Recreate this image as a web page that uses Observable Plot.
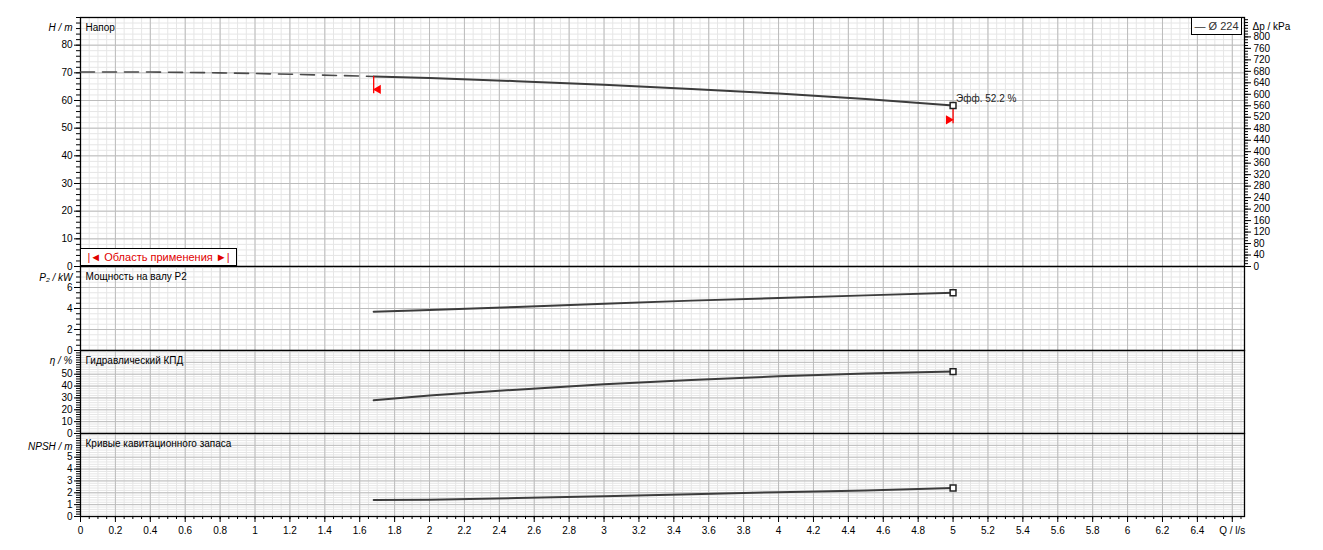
<!DOCTYPE html>
<html>
<head>
<meta charset="utf-8">
<script src="https://cdn.jsdelivr.net/npm/d3@7"></script>
<script src="https://cdn.jsdelivr.net/npm/@observablehq/plot@0.6"></script>
<style>
  html, body { margin: 0; padding: 0; background: #fff; overflow: hidden; }
  #wrap { position: relative; width: 1323px; height: 550px; font-family: "Liberation Sans", Arial, sans-serif; }
  #legend { position: absolute; left: 1191px; top: 17px; width: 49px; height: 16px; border: 1px solid #000; background: #fff;
            font-size: 11px; line-height: 16px; text-align: center; color: #333; z-index: 5; }
  #area { position: absolute; left: 80px; top: 248px; width: 155px; height: 16px; border: 1.5px solid #000; background: #fff;
          font-size: 11px; line-height: 16px; text-align: center; color: #e00000; z-index: 5; }
</style>
</head>
<body>
<div id="wrap">
  <div id="legend">— Ø 224</div>
  <div id="area">|◄ Область применения ►|</div>
</div>
<script>
// ---------- data ----------
const qDash = [0, 0.4, 0.8, 1.2, 1.68];
const headDash = [70.3, 70.3, 70.0, 69.5, 68.7];

const q = [1.68, 2.0, 2.5, 3.0, 3.5, 4.0, 4.5, 5.0];
const head = [68.7, 68.1, 67.0, 65.7, 64.2, 62.5, 60.5, 58.2];
const power = [3.7, 3.85, 4.15, 4.45, 4.75, 5.0, 5.25, 5.5];
const eff = [28, 32, 37, 41.5, 45.2, 48.2, 50.5, 52.2];
const npsh = [1.4, 1.42, 1.55, 1.7, 1.88, 2.05, 2.2, 2.4];

const boundQ = [1.68, 5.0];
const boundTop = [68.7, 58.2];
const boundBottom = [62.4, 51.6];
const boundArrow = [64.0, 53.0];

const effLabel = "Эфф. 52.2 %";
const panelTitles = ["Напор", "Мощность на валу P2", "Гидравлический КПД", "Кривые кавитационного запаса"];
const axisLabels = ["H / m", "P₂ / kW", "η / %", "NPSH / m"];
const rightLabel = "Δp / kPa";
const xLabel = "Q / l/s";
const kPaPerM = 9.64;

// ticks
const xMinor = d3.range(0, 134).map(i => +(i * 0.05).toFixed(2));
const xMajor = d3.range(0, 34).map(i => +(i * 0.2).toFixed(1));

const W = 1323, ML = 80, MR = 79;
const XDOM = [0, 6.67];
const wrap = document.getElementById("wrap");
const LINE = "#3c3c3c";
const GRID_MINOR = "#e6e6e6";
const GRID_MAJOR = "#bcbcbc";
const labelDy = [6, 7, 6, 9.5];

const rows = (xs, ys) => xs.map((x, i) => ({x, y: ys[i]}));

function panel({top, height, mt, mb, ydom, major, minor, labelTicks, idx, extra = [], bottomAxis = false}) {
  const marks = [
    Plot.gridX(xMinor, {stroke: GRID_MINOR, strokeOpacity: 1}),
    Plot.gridY(minor, {stroke: GRID_MINOR, strokeOpacity: 1}),
    Plot.gridX(xMajor, {stroke: GRID_MAJOR, strokeOpacity: 1}),
    Plot.gridY(major, {stroke: GRID_MAJOR, strokeOpacity: 1}),
    Plot.frame({stroke: "#000", strokeWidth: 1.3}),
    Plot.axisY(minor, {tickSize: 4, tickFormat: () => "", label: null}),
    Plot.axisY(labelTicks, {tickSize: 6, tickPadding: 2, label: null}),
    Plot.text([axisLabels[idx]], {frameAnchor: "top-left", lineAnchor: "top", dx: -8, dy: labelDy[idx], textAnchor: "end", fontSize: 10, fontStyle: "italic"}),
    Plot.text([panelTitles[idx]], {frameAnchor: "top-left", lineAnchor: "top", dx: 5, dy: 6.5, textAnchor: "start", fontSize: 10}),
    ...extra
  ];
  if (bottomAxis) {
    marks.push(
      Plot.axisX(xMinor, {tickSize: 3, tickFormat: () => "", label: null}),
      Plot.axisX(xMajor, {tickSize: 6, tickPadding: 4, label: null,
        tickFormat: d => d > 6.5 ? xLabel : String(d)})
    );
  }
  const svg = Plot.plot({
    width: W, height,
    marginLeft: ML, marginRight: MR, marginTop: mt, marginBottom: mb,
    x: {domain: XDOM, axis: null},
    y: {domain: ydom, axis: null},
    style: {background: "transparent", fontFamily: "Liberation Sans, Arial, sans-serif", fontSize: "10px", overflow: "visible", color: "#000"},
    marks
  });
  svg.style.position = "absolute";
  svg.style.left = "0px";
  svg.style.top = top + "px";
  wrap.appendChild(svg);
  return svg;
}

const endSquare = (ys) => Plot.dot([{x: q[q.length - 1], y: ys[ys.length - 1]}],
  {x: "x", y: "y", symbol: "square", r: 3.3, stroke: "#222", fill: "#fff", strokeWidth: 1.5});
const curve = (ys) => Plot.line(rows(q, ys), {x: "x", y: "y", stroke: LINE, strokeWidth: 2});

// ---------- panel 1 : head ----------
const kMinor = d3.range(0, 87).map(i => i * 10);
const kMajor = d3.range(0, 21).map(i => i * 40);
const bounds = boundQ.map((x, i) => ({x, y1: boundTop[i], y2: boundBottom[i], ya: boundArrow[i]}));

panel({
  top: 0, height: 276, mt: 17, mb: 10, ydom: [0, 90], idx: 0,
  major: d3.range(0, 10).map(i => i * 10),
  minor: d3.range(0, 46).map(i => i * 2),
  labelTicks: d3.range(0, 9).map(i => i * 10),
  extra: [
    Plot.axisY(kMinor.map(k => k / kPaPerM), {anchor: "right", tickSize: 3, tickFormat: () => "", label: null}),
    Plot.axisY(kMajor.map(k => k / kPaPerM), {anchor: "right", tickSize: 6, tickPadding: 3, label: null,
      tickFormat: d => String(Math.round(d * kPaPerM))}),
    Plot.text([rightLabel], {frameAnchor: "top-right", lineAnchor: "top", dx: 8, dy: 5, textAnchor: "start", fontSize: 10}),
    Plot.line(rows(qDash, headDash), {x: "x", y: "y", stroke: "#4a4a4a", strokeWidth: 1.6, strokeDasharray: "14,8"}),
    curve(head),
    Plot.ruleX(bounds, {x: "x", y1: "y1", y2: "y2", stroke: "#f00", strokeWidth: 1.3}),
    Plot.dot(bounds.slice(0, 1), {x: "x", y: "ya", symbol: "triangle", r: 3.4, fill: "#f00", stroke: "none", rotate: -90, dx: 4.5}),
    Plot.dot(bounds.slice(1), {x: "x", y: "ya", symbol: "triangle", r: 3.4, fill: "#f00", stroke: "none", rotate: 90, dx: -4.5}),
    endSquare(head),
    Plot.text([{x: q[q.length - 1], y: head[head.length - 1]}], {x: "x", y: "y", text: () => effLabel, dx: 3, dy: -7,
      textAnchor: "start", fontSize: 10, fill: "#222"})
  ]
});

// ---------- panel 2 : power ----------
panel({
  top: 256, height: 104, mt: 10, mb: 10, ydom: [0, 8], idx: 1,
  major: [0, 2, 4, 6, 8],
  minor: d3.range(0, 17).map(i => i * 0.5),
  labelTicks: [0, 2, 4, 6],
  extra: [curve(power), endSquare(power)]
});

// ---------- panel 3 : efficiency ----------
panel({
  top: 340, height: 103, mt: 10, mb: 10, ydom: [0, 70], idx: 2,
  major: d3.range(0, 8).map(i => i * 10),
  minor: d3.range(0, 36).map(i => i * 2),
  labelTicks: [0, 10, 20, 30, 40, 50],
  extra: [curve(eff), endSquare(eff)]
});

// ---------- panel 4 : NPSH ----------
panel({
  top: 423, height: 127, mt: 10, mb: 34, ydom: [0, 7], idx: 3, bottomAxis: true,
  major: d3.range(0, 8),
  minor: d3.range(0, 36).map(i => +(i * 0.2).toFixed(1)),
  labelTicks: [0, 1, 2, 3, 4, 5],
  extra: [curve(npsh), endSquare(npsh)]
});

// keep html overlays on top
wrap.appendChild(document.getElementById("legend"));
wrap.appendChild(document.getElementById("area"));
</script>
</body>
</html>
